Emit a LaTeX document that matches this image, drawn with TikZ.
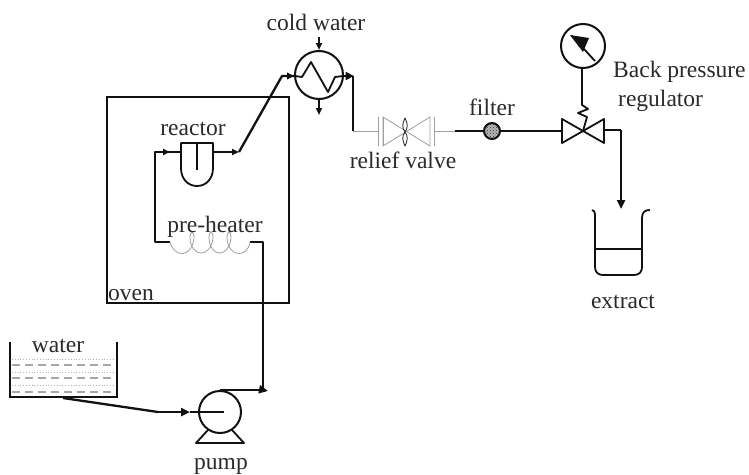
\documentclass[tikz,border=0pt]{standalone}
\usepackage{fontspec}
\setmainfont{Liberation Serif}
\usetikzlibrary{arrows.meta,patterns,calc}
\definecolor{ink}{HTML}{111111}
\definecolor{txt}{HTML}{2A2A2A}
\tikzset{
  pipe/.style={draw=ink,line width=2.3pt,line join=round},
  outline/.style={draw=ink,line width=1.8pt,line join=round},
  thinline/.style={draw=gray!75,line width=0.8pt},
  arrowed/.style={pipe,-{Triangle[length=9pt,width=8pt]}},
  lbl/.style={text=txt,font=\fontsize{23.5}{24}\selectfont,anchor=base,inner sep=0pt},
  round/.style={circle,draw=ink,line width=2pt,inner sep=0pt,fill=white},
  pt/.style={inner sep=0pt,minimum size=0pt}
}
\begin{document}
\begin{tikzpicture}[x=1pt,y=-1pt]
\useasboundingbox (0,0) rectangle (749,474);
\fill[white] (0,0) rectangle (749,474);
% named points
\coordinate (pumpout) at (263,391);
\coordinate (heatR) at (263,242);
\coordinate (heatRi) at (250,242);
\coordinate (heatL) at (170,242);
\coordinate (rise) at (155,242);
\coordinate (riseT) at (155,152);
\coordinate (reacIn) at (181,152);
\coordinate (reacOut) at (213,152);
\coordinate (reacArrow) at (239,152);
\coordinate (bend) at (282,76);
\coordinate (condIn) at (295,76);
\coordinate (condOut) at (343,76);
\coordinate (condTip) at (354,76);
\coordinate (drop) at (353,131);
\coordinate (relL) at (378,131);
\coordinate (relR) at (434,131);
\coordinate (filtIn) at (455,131);
\coordinate (bprIn) at (562,131);
\coordinate (bprOut) at (604,130);
\coordinate (bprC) at (621,130);
\coordinate (beakTip) at (621,209);
\coordinate (tankOut) at (63,398);
\coordinate (tankB) at (158,412);
\coordinate (pumpIn) at (190,412);
\coordinate (pumpC) at (224,412);
% oven
\node[draw=ink,line width=2pt,minimum width=182pt,minimum height=206pt,inner sep=0pt] (oven) at (198,200) {};
% reactor
\draw[outline] (181,143) -- (213,143) -- (213,168) .. controls (213,179) and (206,186) .. (197,186) .. controls (188,186) and (181,179) .. (181,168) -- cycle;
\draw[outline] (197,143) -- (197,170);
% pipes through oven
\draw[pipe] (tankOut) -- (tankB);
\draw[arrowed] (tankB) -- (pumpIn);
\draw[pipe] (pumpIn) -- (pumpC);
\node[round,minimum size=42pt,fill=none] (pump) at (220,412) {};
\draw[outline] (208,430) -- (196,443) -- (244,443) -- (232,430);
\draw[pipe] (pump.north) -- (pumpout |- pump.north);
\draw[arrowed] (pumpout |- pump.north) -- ($(pumpout)+(5,0)$);
\draw[pipe] (pumpout) -- (heatR) -- (heatRi);
\draw[pipe] (heatL) -- (rise) -- (riseT) -- (reacIn);
\draw[pipe,-{Triangle[length=7pt,width=6pt]}] (riseT) -- (170,152);
\draw[pipe,-{Triangle[length=7pt,width=6pt]}] (reacOut) -- (reacArrow);
% coil
\draw[thinline] (heatL) .. controls (174,258) and (192,258) .. (194,238)
  .. controls (194,230) and (190,230) .. (190,238)
  .. controls (191,258) and (211,258) .. (213,238)
  .. controls (213,230) and (209,230) .. (209,238)
  .. controls (210,258) and (229,258) .. (231,238)
  .. controls (231,230) and (227,230) .. (227,238)
  .. controls (228,258) and (248,258) .. (heatRi);
% to condenser
\draw[pipe] (reacArrow) -- (bend) -- (condIn);
\draw[pipe,-{Triangle[length=7pt,width=6.5pt]}] (bend) -- (294,76);
% condenser
\node[round,minimum size=48pt,fill=none] (cond) at (319,75) {};
\draw[outline] (condIn) -- (302,77) -- (311,62) -- (328,92) -- (335,77) -- (condOut);
\draw[pipe,-{Triangle[length=8.5pt,width=8pt]}] (condOut) -- (condTip);
\draw[pipe] (353,76) -- (drop);
\coordinate (cwTop) at (319,37);
\draw[outline,-{Triangle[length=7pt,width=6pt]}] (cwTop) -- (cond.north);
\coordinate (cwBot) at (319,115);
\draw[outline,-{Triangle[length=7pt,width=6pt]}] (cond.south) -- (cwBot);
% relief valve (thin)
\draw[thinline] (drop) -- (relL);
\draw[thinline] (378,117) -- (378,146) (383,117) -- (383,146);
\draw[thinline] (383,117) -- (430,146) -- (430,117) -- (383,146) -- cycle;
\draw[thinline] (434,117) -- (434,146);
\draw[thinline] (relR) -- (filtIn);
\draw[draw=gray!40!black,line width=0.9pt] (405,118) .. controls (402,124) and (402,128) .. (405,132) .. controls (408,136) and (408,140) .. (405,146);
\draw[draw=gray!40!black,line width=0.9pt] (405,118) .. controls (408,124) and (408,128) .. (405,132) .. controls (402,136) and (402,140) .. (405,146);
% filter
\fill[gray!55] (492,131) circle[radius=8pt];
\node[circle,draw=ink,line width=2pt,pattern=crosshatch dots,pattern color=gray!30!black,minimum size=16pt,inner sep=0pt] (filt) at (492,131) {};
\draw[pipe] (filtIn) -- (filt.west);
\draw[pipe] (filt.east) -- (bprIn);
% back pressure valve
\draw[outline] (562,119) -- (604,143) -- (604,119) -- (562,143) -- cycle;
\draw[pipe] (bprOut) -- (bprC);
\draw[arrowed] (bprC) -- (beakTip);
% gauge
\node[round,minimum size=44pt] (gauge) at (583,46) {};
\draw[outline] (572,36) -- (595,61);
\fill[ink] (570,35) -- (589,38) -- (583,52) -- cycle;
\coordinate (stem) at (582,105);
\coordinate (vc) at (583,131);
\draw[outline] (gauge.south -| stem) -- (stem) -- (588,109) -- (578,113) -- (587,117) -- (vc);
% beaker
\draw[outline] (592,210) .. controls (594,210) and (595,212) .. (595,216) -- (595,267) .. controls (595,272) and (598,275) .. (603,275) -- (634,275) .. controls (639,275) and (642,272) .. (642,267) -- (642,218) .. controls (642,212) and (645,210) .. (650,210);
\draw[outline] (595,249) -- (642,249);
% tank
\draw[draw=ink,line width=2.4pt] (10,342) -- (10,397) -- (117,397) -- (117,342);
\foreach \yy in {359,372,385} \draw[draw=gray!60,line width=0.8pt,dotted] (12,\yy) -- (115,\yy);
\foreach \yy in {365,378,392} \draw[draw=gray!70,line width=1.1pt,dash pattern=on 8pt off 5pt] (12,\yy) -- (115,\yy);
% labels
\node[lbl] (l1) at (316,30) {cold water};
\node[lbl] (l2) at (403,168) {relief valve};
\node[lbl] (l3) at (492,115) {filter};
\node[lbl,anchor=base west] (l4) at (613,77) {Back pressure};
\node[lbl,anchor=base west] (l5) at (618,106) {regulator};
\node[lbl] (l6) at (623,308) {extract};
\node[lbl] (l7) at (193,135) {reactor};
\node[lbl] (l8) at (215,232) {pre-heater};
\node[lbl,anchor=base west] (l9) at (108,300) {oven};
\node[lbl] (l10) at (58,352) {water};
\node[lbl] (l11) at (221,469) {pump};
\end{tikzpicture}
\end{document}
